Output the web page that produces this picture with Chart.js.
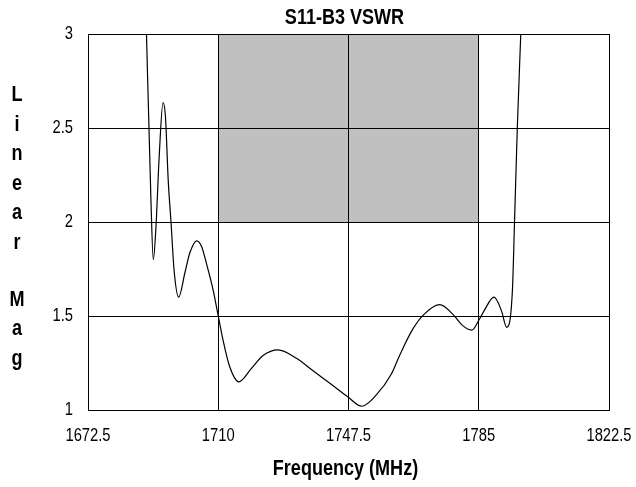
<!DOCTYPE html>
<html>
<head>
<meta charset="utf-8">
<script src="https://cdn.jsdelivr.net/npm/chart.js@4"></script>
<style>
  html, body { margin: 0; padding: 0; background: #fff; }
  #wrap { width: 636px; height: 487px; }
</style>
</head>
<body>
<div id="wrap"><canvas id="vswr"></canvas></div>
<script>
// data
const freqMHz = [1689.2, 1690.6, 1691.3, 1692.0, 1693.0, 1694.1, 1694.8, 1695.6, 1696.4, 1697.3,
                 1698.6, 1700.4, 1701.8, 1703.8, 1705.2, 1706.6, 1708.5, 1710.0, 1711.4, 1713.3,
                 1715.9, 1719.5, 1722.9, 1727.2, 1732.5, 1737.2, 1743.0, 1747.3, 1751.3, 1755.5,
                 1759.8, 1762.2, 1766.0, 1769.3, 1773.8, 1777.5, 1780.3, 1783.0, 1785.1, 1786.6,
                 1789.4, 1791.5, 1793.05, 1794.7, 1795.3, 1796.1, 1797.1, 1797.3];
const vswr = [3.10, 2.13, 1.80, 1.95, 2.35, 2.635, 2.56, 2.22, 2.00, 1.74,
              1.60, 1.73, 1.835, 1.90, 1.87, 1.78, 1.64, 1.50, 1.37, 1.23,
              1.15, 1.22, 1.29, 1.32, 1.275, 1.21, 1.13, 1.07, 1.02, 1.08,
              1.19, 1.29, 1.43, 1.51, 1.56, 1.51, 1.45, 1.425, 1.48, 1.53,
              1.60, 1.53, 1.44, 1.64, 2.00, 2.50, 3.00, 3.10];
const xTicks = [1672.5, 1710, 1747.5, 1785, 1822.5];
const yTicks = [1, 1.5, 2, 2.5, 3];
// spec mask (shaded box)
const maskFreq = [1710, 1785];
const maskVswr = [2, 3];

const chartTitle = 'S11-B3 VSWR';
const xTitle = 'Frequency (MHz)';
const yTitle = 'Linear Mag';

const FONT = '"Liberation Sans", Arial, sans-serif';
const SQUEEZE = 0.82;   // reference uses a narrow face

function narrowText(ctx, text, x, y, font, align) {
    ctx.save();
    ctx.translate(x, y);
    ctx.scale(SQUEEZE, 1);
    ctx.font = font;
    ctx.textAlign = align || 'center';
    ctx.textBaseline = 'middle';
    ctx.fillText(text, 0, 0);
    ctx.restore();
}

// white background + grey mask box, drawn under the grid
const maskPlugin = {
    id: 'mask',
    beforeDraw: function (chart) {
        const ctx = chart.ctx;
        const xs = chart.scales.x, ys = chart.scales.y;
        ctx.save();
        ctx.fillStyle = '#fff';
        ctx.fillRect(0, 0, chart.width, chart.height);
        const x0 = xs.getPixelForValue(maskFreq[0]);
        const x1 = xs.getPixelForValue(maskFreq[1]);
        const y0 = ys.getPixelForValue(maskVswr[1]);
        const y1 = ys.getPixelForValue(maskVswr[0]);
        ctx.fillStyle = '#c0c0c0';
        ctx.fillRect(x0, y0, x1 - x0, y1 - y0);
        ctx.restore();
    }
};

// tick labels and titles in the narrow style
const textPlugin = {
    id: 'texts',
    afterDraw: function (chart) {
        const ctx = chart.ctx;
        const area = chart.chartArea;
        const xs = chart.scales.x, ys = chart.scales.y;
        const cx = (area.left + area.right) / 2;
        ctx.save();
        ctx.fillStyle = '#000';
        const tickFont = '18px ' + FONT;
        xs.ticks.forEach(t => {
            narrowText(ctx, String(t.value), xs.getPixelForValue(t.value), area.bottom + 26, tickFont);
        });
        ys.ticks.forEach(t => {
            narrowText(ctx, String(t.value), area.left - 15, ys.getPixelForValue(t.value), tickFont, 'right');
        });
        const bold = 'bold 22px ' + FONT;
        narrowText(ctx, chartTitle, cx - 4, 18, bold);
        narrowText(ctx, xTitle, cx - 3, 469, bold);
        let y = 95;
        for (const ch of yTitle) {
            if (ch !== ' ') {
                narrowText(ctx, ch, 17, y, bold);
                y += 29.5;
            } else {
                y += 27.5;
            }
        }
        ctx.restore();
    }
};

new Chart(document.getElementById('vswr'), {
    type: 'line',
    data: {
        datasets: [{
            label: 'S11',
            data: freqMHz.map((f, i) => ({ x: f, y: vswr[i] })),
            borderColor: '#000',
            borderWidth: 1.2,
            pointRadius: 0,
            cubicInterpolationMode: 'monotone',
            fill: false
        }]
    },
    options: {
        responsive: true,
        maintainAspectRatio: false,
        animation: false,
        layout: { padding: { left: 0, right: 27, top: 34, bottom: 0 } },
        plugins: {
            legend: { display: false },
            title: { display: false },
            tooltip: { enabled: false }
        },
        scales: {
            x: {
                type: 'linear',
                min: 1672.5,
                max: 1822.5,
                afterBuildTicks: function (scale) {
                    scale.ticks = xTicks.map(v => ({ value: v }));
                },
                afterFit: function (scale) {
                    scale.height = 77;
                    scale.paddingLeft = 0;
                    scale.paddingRight = 0;
                },
                grid: { color: '#000', lineWidth: 1, drawTicks: false },
                border: { display: true, color: '#000', width: 1 },
                ticks: { display: false }
            },
            y: {
                type: 'linear',
                min: 1,
                max: 3,
                afterBuildTicks: function (scale) {
                    scale.ticks = yTicks.map(v => ({ value: v }));
                },
                afterFit: function (scale) {
                    scale.width = 88;
                    scale.paddingTop = 0;
                    scale.paddingBottom = 0;
                },
                grid: { color: '#000', lineWidth: 1, drawTicks: false },
                border: { display: true, color: '#000', width: 1 },
                ticks: { display: false }
            }
        }
    },
    plugins: [maskPlugin, textPlugin]
});
</script>
</body>
</html>
